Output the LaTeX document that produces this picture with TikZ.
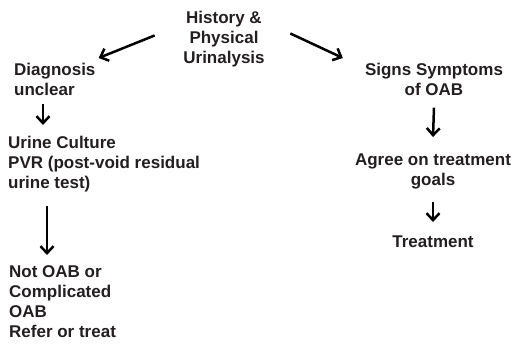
\documentclass[tikz,border=0pt]{standalone}
\usepackage{fontspec}
\setmainfont{Liberation Sans}
\usetikzlibrary{arrows.meta}
\definecolor{ink}{HTML}{231F20}
\newcommand\firstline{\rule{0pt}{13pt}}
\begin{document}
\begin{tikzpicture}[x=1pt,y=-1pt,
  lbl/.style={inner sep=0pt, text=ink, font=\fontsize{17}{20}\selectfont\bfseries},
  arr/.style={line width=2.5pt, black, -{Straight Barb[length=7pt,width=13pt,line width=2.5pt]}}]
\useasboundingbox (0,0) rectangle (516,343);
% text blocks
\node[lbl, anchor=north, align=center] (hist) at (224,10) {\firstline History \&\\Physical\\Urinalysis};
\node[lbl, anchor=north west, align=left] (diag) at (14,62) {\firstline Diagnosis\\unclear};
\node[lbl, anchor=north west, align=left] (urine) at (8,135) {\firstline Urine Culture\\PVR (post-void residual\\urine test)};
\node[lbl, anchor=north west, align=left] (notoab) at (9,264) {\firstline Not OAB or\\Complicated\\OAB\\Refer or treat};
\node[lbl, anchor=north, align=center] (signs) at (434,62) {\firstline Signs Symptoms\\of OAB};
\node[lbl, anchor=north, align=center] (agree) at (433,152) {\firstline Agree on treatment\\goals};
\node[lbl, anchor=north, align=center] (treat) at (433,234) {\firstline Treatment};
% connectors
\draw[arr] ([shift={(-28.5,-3)}]hist.west) -- ([shift={(3,-4)}]diag.north east);
\draw[arr] ([shift={(25.5,-5)}]hist.east) -- ([shift={(-22,-4)}]signs.north west);
\draw[arr] ([shift={(29,8)}]diag.south west) -- ([shift={(35,-10)}]urine.north west);
\draw[arr] ([shift={(39,14.4)}]urine.south west) -- ([shift={(38,-9)}]notoab.north west);
\draw[arr] ([yshift=-12pt]signs.south) -- ([yshift=15pt]agree.north);
\draw[arr] ([yshift=-13.4pt]agree.south) -- ([yshift=12pt]treat.north);
\end{tikzpicture}
\end{document}
